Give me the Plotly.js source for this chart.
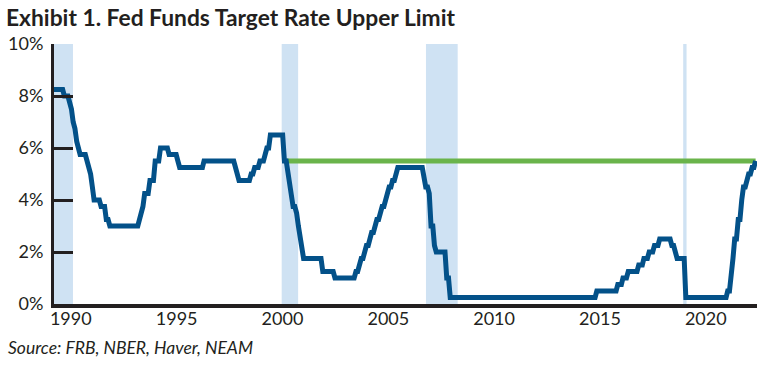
<!DOCTYPE html>
<html>
<head>
<meta charset="utf-8">
<script src="https://cdn.plot.ly/plotly-3.0.1.min.js"></script>
<style>
  html, body { margin: 0; padding: 0; background: #ffffff; }
  #chart { width: 768px; height: 365px; }
</style>
</head>
<body>
<div id="chart"></div>
<script>
// Fed funds target rate (upper limit), vertices of the plotted line (month, %)
const rateDates = [
  '1990-01','1990-06','1990-07','1990-09','1990-10','1990-11','1990-12',
  '1991-01','1991-02','1991-03','1991-04','1991-07','1991-08','1991-09','1991-10','1991-11','1991-12',
  '1992-03','1992-04','1992-06','1992-07','1992-08','1992-09',
  '1994-01','1994-02','1994-03','1994-04','1994-05','1994-07','1994-08','1994-10','1994-11',
  '1995-01','1995-02','1995-06','1995-07','1995-11','1995-12',
  '1996-01','1997-02','1997-03','1998-08','1998-09','1998-10','1998-11',
  '1999-05','1999-06','1999-07','1999-08','1999-10','1999-11',
  '2000-01','2000-02','2000-03','2000-04','2000-05','2000-12',
  '2001-01','2001-02','2001-03','2001-04','2001-05','2001-06','2001-07','2001-08','2001-09','2001-10','2001-11','2001-12',
  '2002-10','2002-11','2003-05','2003-06','2004-05','2004-06','2004-07','2004-08','2004-09','2004-10','2004-11','2004-12',
  '2005-01','2005-02','2005-03','2005-04','2005-05','2005-06','2005-07','2005-08','2005-09','2005-10','2005-11','2005-12',
  '2006-01','2006-02','2006-03','2006-04','2006-05','2006-06',
  '2007-08','2007-09','2007-10','2007-11','2007-12',
  '2008-01','2008-02','2008-03','2008-04','2008-09','2008-10','2008-11','2008-12',
  '2015-11','2015-12','2016-11','2016-12',
  '2017-02','2017-03','2017-05','2017-06','2017-11','2017-12',
  '2018-02','2018-03','2018-05','2018-06','2018-08','2018-09','2018-11','2018-12',
  '2019-06','2019-07','2019-08','2019-09','2019-10','2020-02','2020-03',
  '2022-02','2022-03','2022-04','2022-05','2022-06','2022-07','2022-08','2022-09','2022-10','2022-11','2022-12',
  '2023-01','2023-02','2023-03','2023-04','2023-05','2023-06','2023-07'
];
const rateValues = [
  8.25,8.25,8.00,8.00,7.75,7.50,7.00,
  6.75,6.25,6.00,5.75,5.75,5.50,5.25,5.00,4.50,4.00,
  4.00,3.75,3.75,3.25,3.25,3.00,
  3.00,3.25,3.50,3.75,4.25,4.25,4.75,4.75,5.50,
  5.50,6.00,6.00,5.75,5.75,5.50,
  5.25,5.25,5.50,5.50,5.25,5.00,4.75,
  4.75,5.00,5.00,5.25,5.25,5.50,
  5.50,5.75,6.00,6.00,6.50,6.50,
  5.50,5.50,5.00,4.50,4.00,3.75,3.75,3.50,3.00,2.50,2.00,1.75,
  1.75,1.25,1.25,1.00,1.00,1.25,1.25,1.50,1.75,1.75,2.00,2.25,
  2.25,2.50,2.75,2.75,3.00,3.25,3.25,3.50,3.75,3.75,4.00,4.25,
  4.50,4.50,4.75,4.75,5.00,5.25,
  5.25,4.75,4.50,4.50,4.25,
  3.00,3.00,2.25,2.00,2.00,1.00,1.00,0.25,
  0.25,0.50,0.50,0.75,
  0.75,1.00,1.00,1.25,1.25,1.50,
  1.50,1.75,1.75,2.00,2.00,2.25,2.25,2.50,
  2.50,2.25,2.25,2.00,1.75,1.75,0.25,
  0.25,0.50,0.50,1.00,1.75,2.50,2.50,3.25,3.25,4.00,4.50,
  4.50,4.75,5.00,5.00,5.25,5.25,5.50
];
// Current level reference line
const refDates = ['2001-02-05', '2023-07-01'];
const refValues = [5.5, 5.5];
// Recession shading (as drawn)
const recessionStarts = ['1989-12-01', '2000-11-14', '2007-10-05', '2020-01-15'];
const recessionEnds   = ['1990-11-28', '2001-08-28', '2009-04-10', '2020-03-14'];
// Axis labels (year labels sit where the reference draws them on the date axis)
const yearLabels = [1990, 1995, 2000, 2005, 2010, 2015, 2020];
const yearLabelDates = ['1990-10-20', '1995-11-10', '2000-11-28', '2005-12-18', '2011-01-05', '2016-01-25', '2021-02-12'];
const yTicks = [0, 2, 4, 6, 8, 10];

const INK = '#231f20';
const FONT = 'Lato, "Open Sans", sans-serif';

const traces = [
  { x: refDates, y: refValues, type: 'scatter', mode: 'lines',
    line: { color: '#6ab44b', width: 5 }, hoverinfo: 'skip', showlegend: false },
  { x: rateDates, y: rateValues, type: 'scatter', mode: 'lines',
    line: { color: '#035189', width: 5 }, showlegend: false }
];

const shapes = recessionStarts.map((s, i) => ({
  type: 'rect', xref: 'x', yref: 'paper', x0: s, x1: recessionEnds[i], y0: 0, y1: 1,
  fillcolor: '#cfe2f3', line: { width: 0 }, layer: 'below'
}));

const layout = {
  width: 768, height: 365,
  margin: { l: 54, r: 11, t: 44, b: 61 },
  paper_bgcolor: '#ffffff', plot_bgcolor: '#ffffff',
  font: { family: FONT, color: INK },
  showlegend: false,
  title: {
    text: 'Exhibit 1. Fed Funds Target Rate Upper Limit',
    xref: 'container', yref: 'container', x: 6/768, xanchor: 'left',
    y: 1 - 18/365, yanchor: 'middle',
    font: { family: FONT, size: 22.8, weight: 700, color: INK }
  },
  xaxis: {
    type: 'date', range: ['1990-01-01', '2023-07-25'],
    showline: true, linecolor: INK, linewidth: 4,
    showgrid: false, zeroline: false,
    tickmode: 'array', tickvals: yearLabelDates, ticktext: yearLabels.map(String),
    ticks: '', ticklabelstandoff: -5,
    tickfont: { family: FONT, size: 18, color: INK }
  },
  yaxis: {
    range: [0, 10], tickmode: 'array', tickvals: yTicks,
    ticktext: yTicks.map(v => v + '%'),
    showline: true, linecolor: INK, linewidth: 3,
    ticks: 'inside', ticklen: 19, tickwidth: 3, tickcolor: INK,
    showgrid: false, zeroline: false, ticklabelstandoff: 4,
    tickfont: { family: FONT, size: 18, color: INK }
  },
  shapes: shapes,
  annotations: [{
    text: '<i>Source: FRB, NBER, Haver, NEAM</i>',
    xref: 'paper', yref: 'paper', x: (6 - 54) / 703, y: (304 - 347) / 260,
    xanchor: 'left', yanchor: 'middle', showarrow: false,
    font: { family: FONT, size: 17.5, color: INK }
  }]
};

Plotly.newPlot('chart', traces, layout, { staticPlot: true, displayModeBar: false });
</script>
</body>
</html>
